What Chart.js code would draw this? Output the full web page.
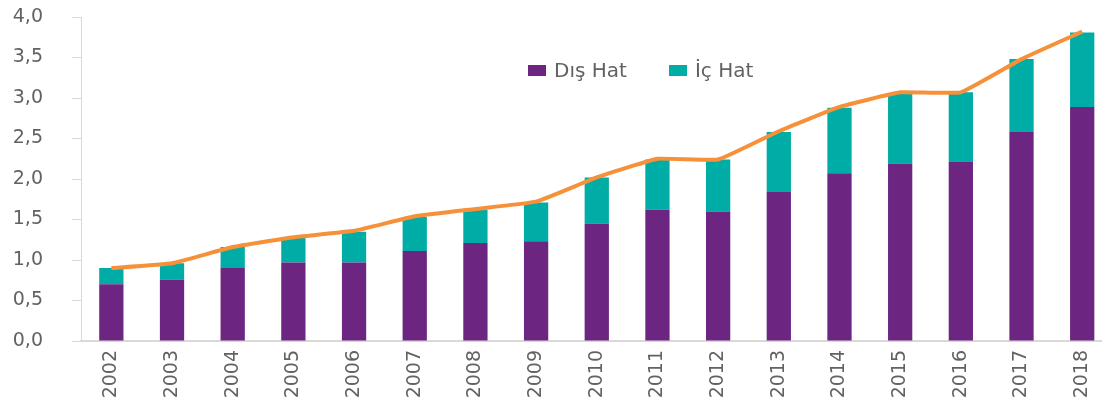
<!DOCTYPE html>
<html>
<head>
<meta charset="utf-8">
<script src="https://cdn.jsdelivr.net/npm/chart.js@4"></script>
<style>
  html, body { margin: 0; padding: 0; background: #fff; overflow: hidden; }
  #wrap { position: relative; width: 1114px; height: 407px; }
  #legend {
    position: absolute; left: 528px; top: 58px;
    font-family: "DejaVu Sans", sans-serif; font-size: 20px; color: #626262;
    display: flex; align-items: center; white-space: nowrap; line-height: 24px;
  }
  #legend .item { display: flex; align-items: center; margin-right: 42px; }
  #legend .box { width: 18px; height: 11px; margin-right: 8px; }
</style>
</head>
<body>
<div id="wrap">
  <canvas id="chart" width="1114" height="407"></canvas>
  <div id="legend"></div>
</div>
<script>
const years = ['2002', '2003', '2004', '2005', '2006', '2007', '2008', '2009', '2010',
  '2011', '2012', '2013', '2014', '2015', '2016', '2017', '2018'];
const disHat = [0.70, 0.76, 0.90, 0.97, 0.97, 1.11, 1.21, 1.23, 1.45, 1.62, 1.60, 1.84, 2.07, 2.19, 2.21, 2.58, 2.89];
const icHat = [0.20, 0.20, 0.26, 0.31, 0.38, 0.42, 0.41, 0.48, 0.57, 0.62, 0.64, 0.74, 0.81, 0.86, 0.86, 0.90, 0.92];
const toplam = [0.90, 0.96, 1.16, 1.28, 1.36, 1.54, 1.63, 1.72, 2.02, 2.25, 2.24, 2.59, 2.89, 3.07, 3.07, 3.48, 3.82];
const yTicks = [0, 0.5, 1, 1.5, 2, 2.5, 3, 3.5, 4];

const COLORS = {
  purple: '#6C2681',
  teal: '#00ADA6',
  orange: '#F6913A',
  text: '#626262',
  axis: '#D9D9D9',
};
const FONT = '"DejaVu Sans", sans-serif';

// legend (bars only, the line has no entry)
const legendEl = document.getElementById('legend');
[['Dış Hat', COLORS.purple], ['İç Hat', COLORS.teal]].forEach(([label, color]) => {
  const item = document.createElement('div');
  item.className = 'item';
  item.innerHTML = `<span class="box" style="background:${color}"></span><span>${label}</span>`;
  legendEl.appendChild(item);
});

const ctx = document.getElementById('chart').getContext('2d');
new Chart(ctx, {
  type: 'bar',
  data: {
    labels: years,
    datasets: [
      {
        label: 'Dış Hat',
        data: disHat,
        backgroundColor: COLORS.purple,
        stack: 'hat',
        order: 2,
        barPercentage: 0.4,
        categoryPercentage: 1,
      },
      {
        label: 'İç Hat',
        data: icHat,
        backgroundColor: COLORS.teal,
        stack: 'hat',
        order: 2,
        barPercentage: 0.4,
        categoryPercentage: 1,
      },
      {
        type: 'line',
        label: 'Toplam',
        data: toplam,
        borderColor: COLORS.orange,
        backgroundColor: COLORS.orange,
        borderWidth: 4,
        pointRadius: 0,
        tension: 0.1,
        stack: 'toplam',
        order: 0,
      },
    ],
  },
  options: {
    responsive: false,
    animation: false,
    layout: { padding: { left: 11, top: 0, right: 0, bottom: 0 } },
    plugins: {
      legend: { display: false },
      tooltip: { enabled: false },
    },
    scales: {
      x: {
        stacked: true,
        grid: { display: false, drawTicks: false },
        border: { display: true, color: COLORS.axis, width: 2 },
        ticks: {
          color: COLORS.text,
          font: { family: FONT, size: 19 },
          maxRotation: 90,
          minRotation: 90,
          padding: 9,
          autoSkip: false,
        },
        afterFit(scale) {
          scale.height = 66;
        },
      },
      y: {
        stacked: true,
        min: 0,
        max: 4,
        afterBuildTicks(scale) {
          scale.ticks = yTicks.map((value) => ({ value }));
        },
        grid: { drawOnChartArea: false, color: COLORS.axis, tickLength: 9 },
        border: { display: true, color: COLORS.axis, width: 1 },
        ticks: {
          color: COLORS.text,
          font: { family: FONT, size: 19 },
          padding: 29,
          callback(value) {
            return Number(value).toFixed(1).replace('.', ',');
          },
        },
        afterFit(scale) {
          scale.width = 70;
          // tick padding would otherwise push the plot down
          scale.paddingTop = 17;
          scale.paddingBottom = 0;
        },
      },
    },
  },
});
</script>
</body>
</html>
